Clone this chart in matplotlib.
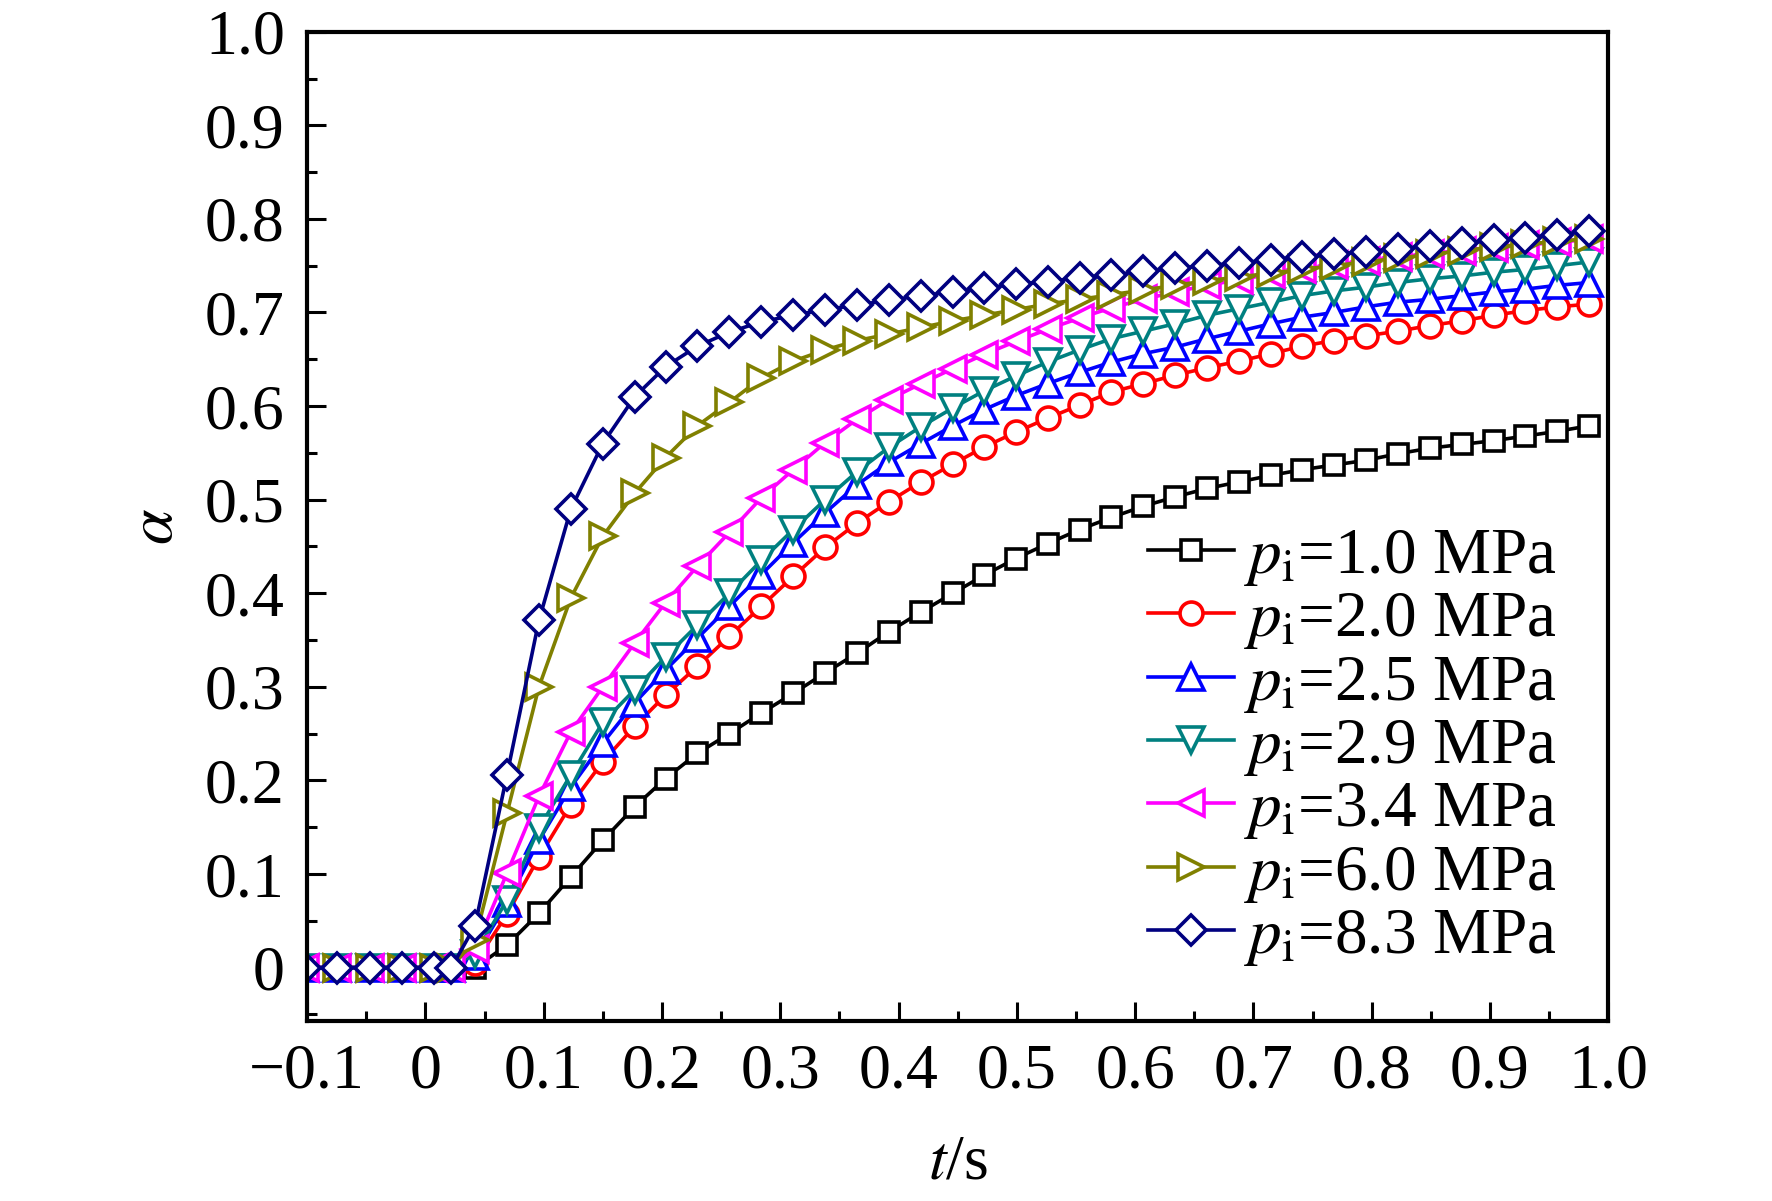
import matplotlib
matplotlib.use('Agg')
import matplotlib.pyplot as plt
from matplotlib.ticker import MultipleLocator, FuncFormatter

plt.rcParams['font.family'] = ['Liberation Serif', 'DejaVu Serif']
plt.rcParams['mathtext.fontset'] = 'stix'
plt.rcParams['axes.unicode_minus'] = True

# time axis (s)
t = [-0.102, -0.075, -0.047, -0.020, 0.007, 0.022,
     0.042, 0.069, 0.096, 0.123, 0.150, 0.177, 0.203, 0.230, 0.257, 0.284,
     0.311, 0.338, 0.365, 0.392, 0.419, 0.446, 0.472, 0.499, 0.526, 0.553,
     0.580, 0.607, 0.634, 0.661, 0.688, 0.715, 0.741, 0.768, 0.795, 0.822,
     0.849, 0.876, 0.903, 0.930, 0.957, 0.984]

pre = [0.0, 0.0, 0.0, 0.0, 0.0, 0.0]

a_10 = pre + [0.000, 0.024, 0.058, 0.097, 0.136, 0.172, 0.202, 0.229, 0.250, 0.272,
              0.293, 0.315, 0.336, 0.359, 0.380, 0.400, 0.419, 0.437, 0.453, 0.468,
              0.481, 0.493, 0.503, 0.512, 0.519, 0.526, 0.532, 0.537, 0.542, 0.549,
              0.555, 0.559, 0.563, 0.568, 0.573, 0.579]
a_20 = pre + [0.005, 0.057, 0.118, 0.174, 0.220, 0.258, 0.291, 0.322, 0.354, 0.386,
              0.418, 0.449, 0.475, 0.498, 0.519, 0.538, 0.556, 0.572, 0.587, 0.601,
              0.615, 0.624, 0.633, 0.641, 0.648, 0.656, 0.664, 0.670, 0.675, 0.680,
              0.686, 0.691, 0.697, 0.702, 0.706, 0.709]
a_25 = pre + [0.012, 0.069, 0.136, 0.193, 0.240, 0.283, 0.318, 0.352, 0.386, 0.420,
              0.454, 0.486, 0.516, 0.540, 0.560, 0.579, 0.596, 0.611, 0.624, 0.636,
              0.647, 0.656, 0.663, 0.672, 0.680, 0.688, 0.695, 0.700, 0.706, 0.711,
              0.714, 0.718, 0.722, 0.725, 0.729, 0.732]
a_29 = pre + [0.015, 0.072, 0.149, 0.206, 0.262, 0.297, 0.332, 0.366, 0.400, 0.435,
              0.468, 0.500, 0.530, 0.556, 0.578, 0.598, 0.616, 0.632, 0.647, 0.660,
              0.672, 0.680, 0.688, 0.697, 0.704, 0.711, 0.718, 0.723, 0.727, 0.732,
              0.736, 0.739, 0.743, 0.746, 0.750, 0.754]
a_34 = pre + [0.020, 0.101, 0.183, 0.252, 0.300, 0.347, 0.390, 0.429, 0.465, 0.502,
              0.532, 0.561, 0.586, 0.607, 0.624, 0.640, 0.655, 0.669, 0.682, 0.694,
              0.705, 0.714, 0.722, 0.729, 0.735, 0.741, 0.746, 0.751, 0.755, 0.759,
              0.763, 0.766, 0.769, 0.772, 0.775, 0.778]
a_60 = pre + [0.030, 0.165, 0.300, 0.395, 0.461, 0.507, 0.545, 0.579, 0.604, 0.630,
              0.648, 0.660, 0.670, 0.677, 0.684, 0.691, 0.697, 0.703, 0.709, 0.714,
              0.719, 0.724, 0.729, 0.734, 0.738, 0.742, 0.746, 0.750, 0.754, 0.758,
              0.762, 0.766, 0.770, 0.773, 0.776, 0.779]
a_83 = pre + [0.045, 0.206, 0.371, 0.490, 0.560, 0.610, 0.642, 0.664, 0.679, 0.690,
              0.697, 0.703, 0.708, 0.713, 0.718, 0.722, 0.726, 0.730, 0.733, 0.737,
              0.740, 0.744, 0.747, 0.750, 0.753, 0.756, 0.759, 0.762, 0.765, 0.768,
              0.771, 0.774, 0.777, 0.780, 0.783, 0.787]

labels = ['1.0', '2.0', '2.5', '2.9', '3.4', '6.0', '8.3']
series = [a_10, a_20, a_25, a_29, a_34, a_60, a_83]
colors = ['#000000', '#ff0000', '#0000ff', '#008080', '#ff00ff', '#808000', '#000080']
markers = ['s', 'o', '^', 'v', '<', '>', 'D']
msizes = [15, 16.5, 19, 19, 19, 19, 15]

fig = plt.figure(figsize=(17.72, 12.01), dpi=100, facecolor='white')
ax = fig.add_axes([0.1733, 0.1499, 0.7343, 0.8237])

for y, lab, c, m, ms in zip(series, labels, colors, markers, msizes):
    ax.plot(t, y, color=c, lw=2.6, marker=m, ms=ms, mfc='white', mec=c, mew=2.6,
            label=r'$p_{\mathrm{i}}$=' + lab + ' MPa')

ax.set_xlim(-0.1, 1.0)
ax.set_ylim(-0.057, 1.0)
ax.xaxis.set_major_locator(MultipleLocator(0.1))
ax.xaxis.set_minor_locator(MultipleLocator(0.05))
ax.yaxis.set_major_locator(MultipleLocator(0.1))
ax.yaxis.set_minor_locator(MultipleLocator(0.05))

def fmt(v, pos):
    if abs(v) < 1e-9:
        return '0'
    s = f'{v:.1f}'
    return s.replace('-', '\u2212')

ax.xaxis.set_major_formatter(FuncFormatter(fmt))
ax.yaxis.set_major_formatter(FuncFormatter(fmt))

ax.tick_params(which='both', direction='in', top=False, right=False, labelsize=46, width=2.2)
ax.tick_params(which='major', length=14, pad=16)
ax.tick_params(which='minor', length=7)
for sp in ax.spines.values():
    sp.set_linewidth(3)

ax.set_xlabel(r'$t$/s', fontsize=46, labelpad=24)
ax.set_ylabel(r'$\alpha$', fontsize=46, labelpad=14)

ax.legend(loc='upper left', bbox_to_anchor=(0.646, 0.499), frameon=False, fontsize=47,
          handlelength=1.33, handletextpad=0.14, labelspacing=0.04,
          borderpad=0, borderaxespad=0)

fig.savefig('out.png', dpi=100, facecolor='white')
